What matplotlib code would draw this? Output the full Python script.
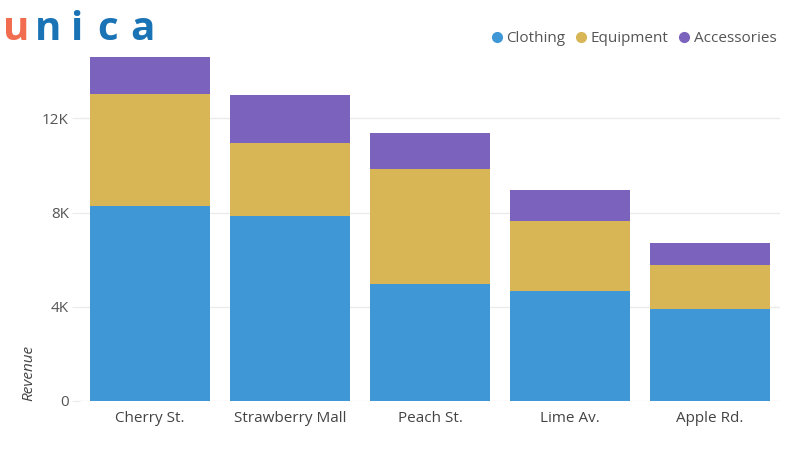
import matplotlib.pyplot as plt
import numpy as np
from matplotlib.ticker import FuncFormatter
from matplotlib.lines import Line2D

stores = ['Cherry St.', 'Strawberry Mall', 'Peach St.', 'Lime Av.', 'Apple Rd.']
clothing = [8260, 7840, 4960, 4660, 3900]
equipment = [4790, 3130, 4910, 2970, 1860]
accessories = [1550, 2030, 1490, 1310, 930]

colors = {'Clothing': '#3f97d6', 'Equipment': '#d8b655', 'Accessories': '#7b62bd'}

plt.rcParams['font.family'] = ['Open Sans', 'DejaVu Sans']

fig = plt.figure(figsize=(8, 4.5), dpi=100)
ax = fig.add_axes([0.1, 0.109, 0.875, 0.764])

x = np.arange(len(stores))
w = 0.857
bottom = np.zeros(len(stores))
for name, vals in [('Clothing', clothing), ('Equipment', equipment), ('Accessories', accessories)]:
    ax.bar(x, vals, w, bottom=bottom, color=colors[name], zorder=3)
    bottom += np.array(vals)

ax.set_xlim(-0.5, 4.5)
ax.set_ylim(0, 14600)
ax.set_yticks([0, 4000, 8000, 12000])
ax.yaxis.set_major_formatter(FuncFormatter(lambda v, p: '0' if v == 0 else '%dK' % (v / 1000)))
ax.set_xticks(x)
ax.set_xticklabels(stores)
ax.grid(axis='y', color='#ebebeb', linewidth=1, zorder=0)
for s in ax.spines.values():
    s.set_visible(False)
ax.tick_params(axis='y', length=6, color='#ebebeb', labelsize=11, labelcolor='#555555', pad=2)
ax.tick_params(axis='x', length=0, labelsize=11, labelcolor='#444444', pad=7)
ax.set_ylabel('Revenue', fontsize=11, style='italic', color='#444444', loc='bottom')
ax.yaxis.set_label_coords(-0.062, 0.0)

handles = [Line2D([0], [0], marker='o', linestyle='', markersize=7, markerfacecolor=c,
                  markeredgecolor=c, label=n) for n, c in colors.items()]
fig.legend(handles=handles, loc='upper right', bbox_to_anchor=(0.988, 0.962), ncol=3, frameon=False,
           fontsize=11, handlelength=0.6, handletextpad=0.35, columnspacing=0.7, labelcolor='#555555')

# logo
logo = [('u', 16, '#f26c4f'), ('n', 48, '#1a73b5'), ('i', 76, '#1a73b5'),
        ('c', 108, '#1a73b5'), ('a', 142, '#1a73b5')]
for ch, px, col in logo:
    fig.text(px / 800, 1 - 40 / 450, ch, fontsize=29, fontweight='bold', color=col,
             family='Open Sans', ha='center', va='baseline')

fig.savefig('out.png', dpi=100)
